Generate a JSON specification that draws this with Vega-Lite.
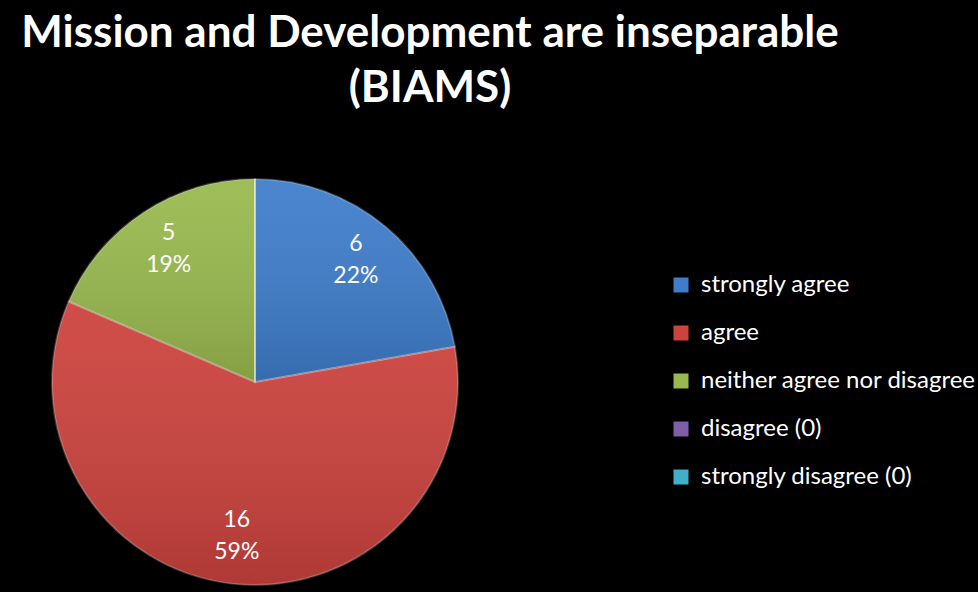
{
  "$schema": "https://vega.github.io/schema/vega-lite/v6.json",
  "width": 406,
  "height": 406,
  "autosize": {"type": "none"},
  "padding": {"left": 52, "top": 179, "right": 520, "bottom": 7},
  "background": "black",
  "view": {"stroke": null},
  "title": {
    "text": ["Mission and Development are inseparable", "(BIAMS)"],
    "font": "Lato",
    "fontSize": 44,
    "fontWeight": "bold",
    "color": "white",
    "anchor": "middle",
    "frame": "group",
    "dx": 175,
    "lineHeight": 55,
    "offset": 64
  },
  "data": {
    "values": [
      {"category": "strongly agree", "count": 6, "label": "6\n22%", "order": 1},
      {"category": "agree", "count": 16, "label": "16\n59%", "order": 2},
      {"category": "neither agree nor disagree", "count": 5, "label": "5\n19%", "order": 3},
      {"category": "disagree (0)", "count": 0, "label": "", "order": 4},
      {"category": "strongly disagree (0)", "count": 0, "label": "", "order": 5}
    ]
  },
  "encoding": {
    "theta": {"field": "count", "type": "quantitative", "stack": true},
    "order": {"field": "order", "type": "quantitative"}
  },
  "layer": [
    {
      "mark": {"type": "arc", "outerRadius": 203},
      "encoding": {
        "color": {
          "field": "category",
          "type": "nominal",
          "scale": {
            "domain": ["strongly agree", "agree", "neither agree nor disagree", "disagree (0)", "strongly disagree (0)"],
            "range": ["#3e7dcb", "#cc423d", "#99b94e", "#7e5fa7", "#3fb0c8"]
          },
          "legend": {
            "orient": "none",
            "legendX": 617,
            "legendY": 94,
            "title": null,
            "labelFont": "Lato",
            "labelFontSize": 24,
            "labelColor": "white",
            "labelOffset": 8,
            "labelLimit": 500,
            "symbolType": "square",
            "symbolSize": 225,
            "symbolStrokeWidth": 0,
            "rowPadding": 24
          }
        }
      }
    },
    {
      "mark": {
        "type": "arc",
        "outerRadius": 203,
        "stroke": "rgba(255,255,255,0.22)",
        "strokeWidth": 2,
        "fill": {
          "gradient": "linear",
          "x1": 0, "y1": 0, "x2": 0, "y2": 1,
          "stops": [
            {"offset": 0, "color": "rgba(255,255,255,0.06)"},
            {"offset": 1, "color": "rgba(0,0,0,0.14)"}
          ]
        }
      }
    },
    {
      "transform": [{"filter": "datum.count > 0"}],
      "mark": {"type": "text", "radius": 157, "dy": -18, "font": "Lato", "fontSize": 23, "color": "white", "lineBreak": "\n", "lineHeight": 32, "baseline": "middle", "align": "center"},
      "encoding": {
        "text": {"field": "label", "type": "nominal"}
      }
    }
  ]
}
